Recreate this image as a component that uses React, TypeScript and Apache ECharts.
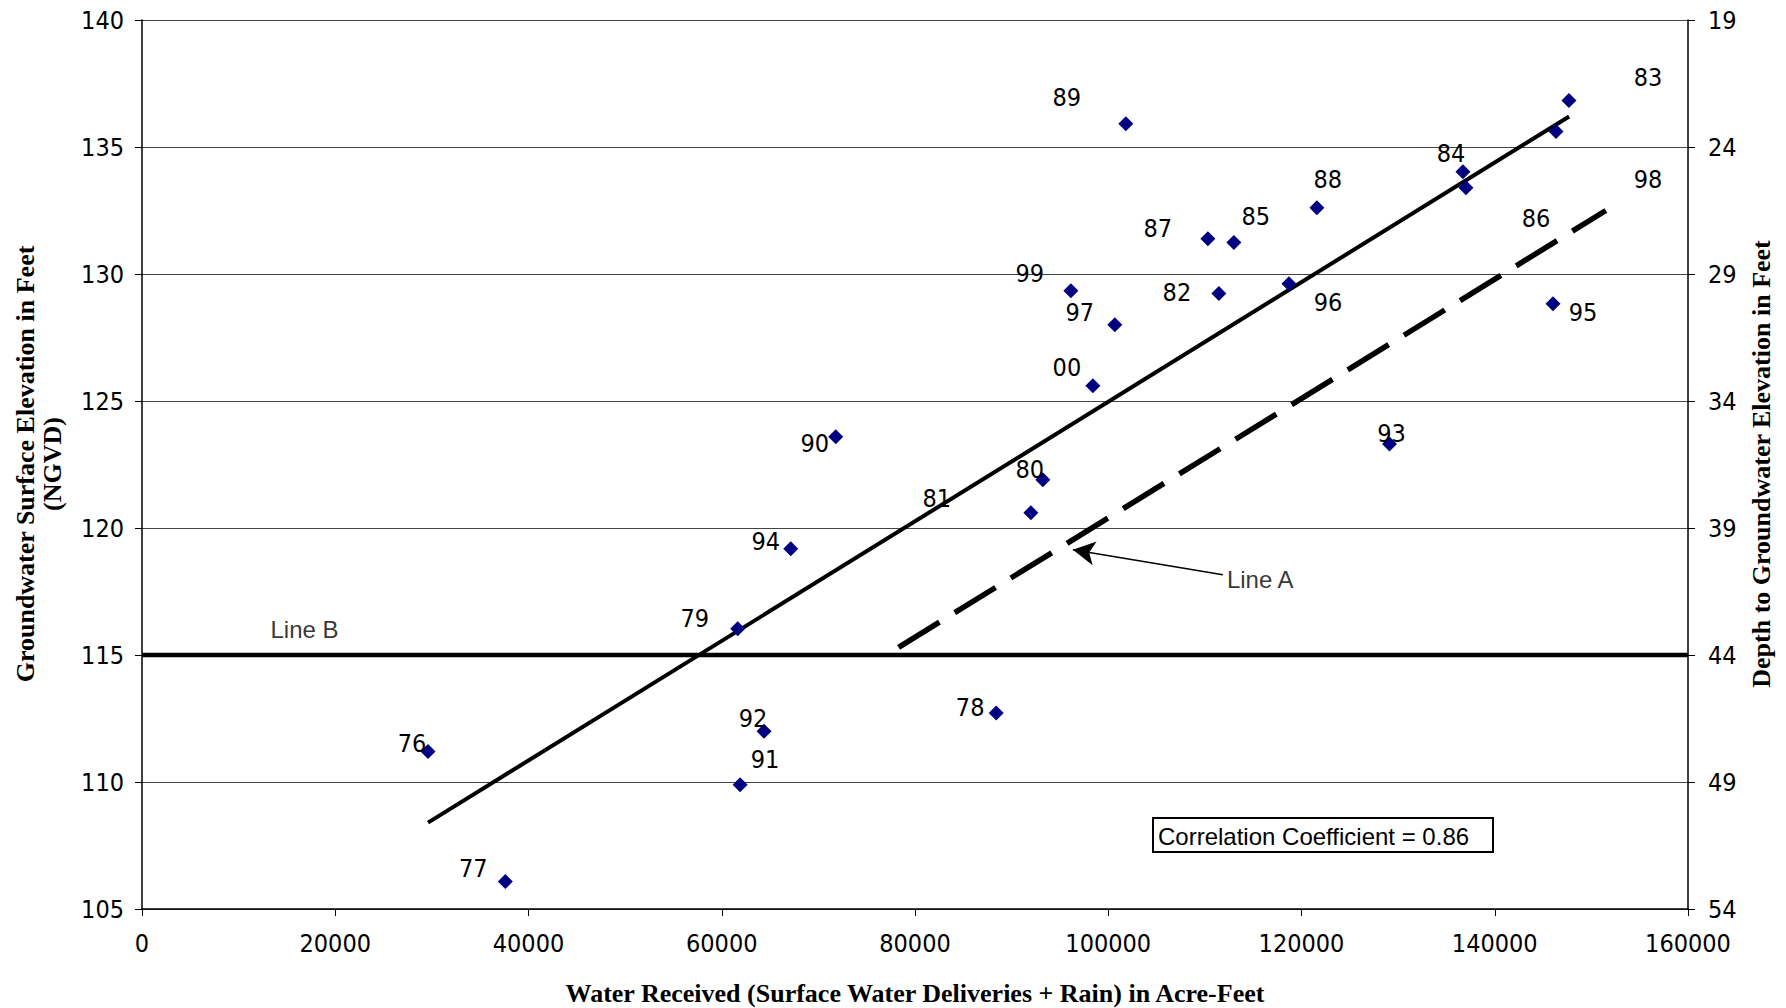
import React, { useEffect, useRef } from "react";
import * as echarts from "echarts";

const years = ["76","77","78","79","80","81","82","83","84","85","86","87","88","89","90","91","92","93","94","95","96","97","98","99","00"];
const waterReceived = [29600,37600,88400,61650,93230,91990,111450,147680,136710,113000,137020,110310,121590,101820,71800,61900,64380,129110,67140,146030,118700,100680,146340,96130,98410];
const elevation = [111.2,106.08,112.72,116.03,121.9,120.6,129.23,136.83,134.03,131.24,133.4,131.39,132.61,135.92,123.59,109.89,112.0,123.31,119.18,128.83,129.62,128.0,135.61,129.34,125.6];
// label placement relative to the marker, in px (style only)
const labelOffsets: [number, number][] = [[-16,-8],[-32,-13],[-26,-5],[-43,-10],[-13,-10],[-94,-14],[-42,-1],[79,-23],[-12,-18],[22,-26],[70,31],[-50,-10],[11,-28],[-59,-26],[-21,7],[25,-25],[-11,-13],[2,-10],[-25,-7],[30,9],[39,19],[-35,-12],[92,48],[-41,-17],[-26,-18]];

const xTicks = { min: 0, max: 160000, interval: 20000 };
const yTicks = { min: 105, max: 140, interval: 5 };
const depthOffset = 159; // depth = 159 - elevation

const regressionLine = [[29600, 108.4], [147700, 136.2]];
const lineA = [[78300, 115.3], [151500, 132.5]];
const lineB = [[0, 115], [160000, 115]];
const arrowFrom = [111860, 118.16];
const arrowTo = [96340, 119.14];
const lineALabelPos = [112280, 117.96];
const lineBLabelPos = [13300, 116.0];
const correlationText = "Correlation Coefficient = 0.86";

const NARROW = "'Liberation Sans Narrow', 'Arial Narrow', 'DejaVu Sans Condensed', sans-serif";
const SANS = "'Liberation Sans', Arial, sans-serif";
const SERIF = "'Liberation Serif', 'Times New Roman', serif";

export default function App() {
  const ref = useRef<HTMLDivElement>(null);
  useEffect(() => {
    if (!ref.current) return;
    const chart = echarts.init(ref.current, undefined, { renderer: "svg" });
    const points = years.map((yr, i) => ({
      value: [waterReceived[i], elevation[i]],
      label: {
        show: true,
        position: "inside",
        offset: labelOffsets[i],
        formatter: yr,
        color: "#000",
        fontFamily: NARROW,
        fontSize: 25,
      },
    }));
    chart.setOption({
      animation: false,
      backgroundColor: "#fff",
      grid: { left: 142, right: 98, top: 20, bottom: 99, containLabel: false },
      xAxis: {
        type: "value",
        ...xTicks,
        axisLine: { show: true, lineStyle: { color: "#000", width: 1.5 } },
        axisTick: { show: true, length: 7, lineStyle: { color: "#000" } },
        splitLine: { show: false },
        axisLabel: {
          color: "#000",
          fontFamily: NARROW,
          fontSize: 25,
          margin: 22,
          formatter: (v: number) => String(v),
        },
      },
      yAxis: [
        {
          type: "value",
          ...yTicks,
          position: "left",
          axisLine: { show: true, lineStyle: { color: "#000", width: 1.5 } },
          axisTick: { show: true, length: 7, lineStyle: { color: "#000" } },
          splitLine: { show: true, lineStyle: { color: "#444", width: 1.2 } },
          axisLabel: { color: "#000", fontFamily: NARROW, fontSize: 25, margin: 18 },
        },
        {
          type: "value",
          ...yTicks,
          position: "right",
          axisLine: { show: true, lineStyle: { color: "#000", width: 1.5 } },
          axisTick: { show: true, length: 7, lineStyle: { color: "#000" } },
          splitLine: { show: false },
          axisLabel: {
            color: "#000",
            fontFamily: NARROW,
            fontSize: 25,
            margin: 20,
            formatter: (v: number) => String(depthOffset - v),
          },
        },
      ],
      series: [
        {
          type: "line",
          data: lineB,
          showSymbol: false,
          symbol: "none",
          lineStyle: { color: "#000", width: 4.5 },
          z: 3,
        },
        {
          type: "line",
          data: regressionLine,
          showSymbol: false,
          symbol: "none",
          lineStyle: { color: "#000", width: 4 },
          z: 3,
        },
        {
          type: "line",
          data: lineA,
          showSymbol: false,
          symbol: "none",
          lineStyle: { color: "#000", width: 5.5, type: [48, 18], cap: "butt" },
          z: 3,
          markLine: {
            silent: true,
            symbol: ["none", "arrow"],
            symbolSize: [18, 22],
            label: { show: false },
            lineStyle: { color: "#000", width: 1.5, type: "solid" },
            data: [[{ coord: arrowFrom }, { coord: arrowTo }]],
          },
        },
        {
          type: "scatter",
          data: points,
          symbol: "diamond",
          symbolSize: 15,
          itemStyle: { color: "#000080", opacity: 1 },
          z: 5,
        },
        {
          type: "scatter",
          symbolSize: 0,
          data: [
            { value: lineALabelPos, name: "Line A" },
            { value: lineBLabelPos, name: "Line B" },
          ],
          label: {
            show: true,
            position: "inside",
            align: "left",
            verticalAlign: "middle",
            formatter: (p: any) => p.name,
            color: "#000",
            fontFamily: SANS,
            fontSize: 24,
          },
          z: 6,
        },
      ],
      graphic: [
        {
          type: "text",
          x: 25,
          y: 464,
          rotation: Math.PI / 2,
          style: {
            text: "Groundwater Surface Elevation in Feet",
            font: `bold 26px ${SERIF}`,
            fill: "#000",
            align: "center",
            verticalAlign: "middle",
          },
        },
        {
          type: "text",
          x: 52,
          y: 464,
          rotation: Math.PI / 2,
          style: {
            text: "(NGVD)",
            font: `bold 26px ${SERIF}`,
            fill: "#000",
            align: "center",
            verticalAlign: "middle",
          },
        },
        {
          type: "text",
          x: 1761,
          y: 464,
          rotation: Math.PI / 2,
          style: {
            text: "Depth to Groundwater Elevation in Feet",
            font: `bold 26px ${SERIF}`,
            fill: "#000",
            align: "center",
            verticalAlign: "middle",
          },
        },
        {
          type: "text",
          x: 915,
          y: 993,
          style: {
            text: "Water Received (Surface Water Deliveries + Rain) in Acre-Feet",
            font: `bold 26px ${SERIF}`,
            fill: "#000",
            align: "center",
            verticalAlign: "middle",
          },
        },
        {
          type: "rect",
          shape: { x: 1153, y: 818, width: 340, height: 34 },
          style: { fill: "#fff", stroke: "#000", lineWidth: 2 },
          z: 10,
        },
        {
          type: "text",
          x: 1158,
          y: 836,
          z: 11,
          style: {
            text: correlationText,
            font: `24px ${SANS}`,
            fill: "#000",
            align: "left",
            verticalAlign: "middle",
          },
        },
      ],
    });
    return () => chart.dispose();
  }, []);
  return <div ref={ref} style={{ width: 1786, height: 1008, position: "absolute", left: 0, top: 0 }} />;
}
